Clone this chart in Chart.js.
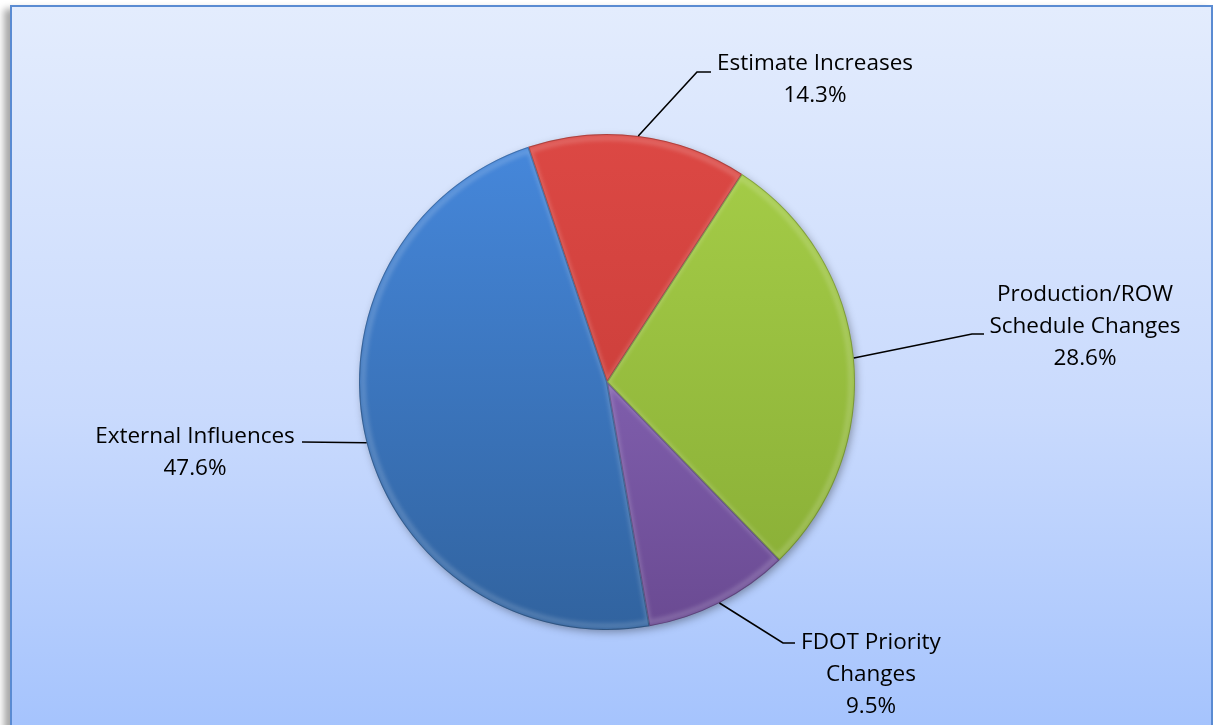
<!DOCTYPE html>
<html>
<head>
<meta charset="utf-8">
<script src="https://cdn.jsdelivr.net/npm/chart.js@4/dist/chart.umd.min.js"></script>
<style>
    html, body { margin: 0; padding: 0; background: #ffffff; overflow: hidden; }
    #frame {
        position: absolute; left: 10px; top: 5px; width: 1199px; height: 740px;
        border: 2px solid #5a8bd2;
        background: linear-gradient(to bottom, #e3ecfd 0%, #c9dafd 55%, #a3c2fd 100%);
        box-shadow: -6px 4px 7px rgba(0,0,0,.35);
    }
    #wrap { position: absolute; left: 0; top: 0; width: 1213px; height: 725px; }
</style>
</head>
<body>
<div id="frame"></div>
<div id="wrap"><canvas id="pieChart"></canvas></div>
<script>
// slice data, clockwise from the red slice
var categories = ['Estimate Increases', 'Production/ROW Schedule Changes', 'FDOT Priority Changes', 'External Influences'];
var shares     = [14.3, 28.6, 9.5, 47.6];
var labelLines = [['Estimate Increases'], ['Production/ROW', 'Schedule Changes'], ['FDOT Priority', 'Changes'], ['External Influences']];

// top / bottom shade of each slice
var sliceTop    = ['#dc4844', '#a6ce48', '#9472c6', '#4688dc'];
var sliceBottom = ['#c03834', '#87ac35', '#6a4a92', '#31639f'];

// where each label sits: text centre x, first line y, leader elbow, leader end
var labelPos = [
    { cx: 815,  y: 64,  elbow: [697, 72],  end: [711, 72] },
    { cx: 1085, y: 295, elbow: [972, 334], end: [984, 334] },
    { cx: 871,  y: 643, elbow: [783, 643], end: [795, 643] },
    { cx: 195,  y: 437, elbow: [302, 442], end: [302, 442] }
];

var FONT = '22.5px "Open Sans", "Liberation Sans", sans-serif';
var LINE_H = 32;

function shade(ctx) {
    var i = ctx.dataIndex;
    var area = ctx.chart.chartArea;
    if (!area) return sliceTop[i];
    var g = ctx.chart.ctx.createLinearGradient(0, area.top, 0, area.bottom);
    g.addColorStop(0, sliceTop[i]);
    g.addColorStop(1, sliceBottom[i]);
    return g;
}

function arcPath(c, a, inset) {
    c.beginPath();
    c.moveTo(a.x, a.y);
    c.arc(a.x, a.y, a.outerRadius - inset, a.startAngle, a.endAngle);
    c.closePath();
}

// drop shadow under the pie
var pieShadow = {
    id: 'pieShadow',
    beforeDatasetsDraw: function(chart) {
        var a = chart.getDatasetMeta(0).data[0];
        if (!a) return;
        var c = chart.ctx;
        c.save();
        c.shadowColor = 'rgba(0,0,0,.35)';
        c.shadowBlur = 9;
        c.shadowOffsetX = 2;
        c.shadowOffsetY = 3;
        c.fillStyle = '#5a7fb0';
        c.beginPath();
        c.arc(a.x, a.y, a.outerRadius - 1, 0, Math.PI * 2);
        c.fill();
        c.restore();
    }
};

// soft bevel on every slice
var bevel = {
    id: 'bevel',
    afterDatasetsDraw: function(chart) {
        var c = chart.ctx;
        chart.getDatasetMeta(0).data.forEach(function(a) {
            c.save();
            arcPath(c, a, 0);
            c.clip();
            c.filter = 'blur(2px)';
            arcPath(c, a, 4);
            c.lineWidth = 5;
            c.strokeStyle = 'rgba(255,255,255,.18)';
            c.stroke();
            c.filter = 'none';
            arcPath(c, a, 0);
            c.lineWidth = 2;
            c.strokeStyle = 'rgba(0,0,0,.22)';
            c.stroke();
            c.restore();
        });
    }
};

// labels with leader lines
var leaderLabels = {
    id: 'leaderLabels',
    afterDraw: function(chart) {
        var c = chart.ctx;
        var ds = chart.data.datasets[0].data;
        c.save();
        c.font = FONT;
        c.fillStyle = '#000';
        c.textAlign = 'center';
        c.textBaseline = 'middle';
        chart.getDatasetMeta(0).data.forEach(function(a, i) {
            var p = labelPos[i];
            var mid = (a.startAngle + a.endAngle) / 2;
            var ax = a.x + Math.cos(mid) * a.outerRadius;
            var ay = a.y + Math.sin(mid) * a.outerRadius;
            c.beginPath();
            c.moveTo(ax, ay);
            c.lineTo(p.elbow[0], p.elbow[1]);
            c.lineTo(p.end[0], p.end[1]);
            c.lineWidth = 1.6;
            c.strokeStyle = '#000';
            c.stroke();
            var lines = labelLines[i].concat([ds[i].toFixed(1) + '%']);
            lines.forEach(function(t, k) {
                c.fillText(t, p.cx, p.y + k * LINE_H);
            });
        });
        c.restore();
    }
};

new Chart(document.getElementById('pieChart').getContext('2d'), {
    type: 'pie',
    data: {
        labels: categories,
        datasets: [{
            data: shares,
            backgroundColor: shade,
            borderWidth: 0,
            hoverOffset: 0,
            offset: 0
        }]
    },
    options: {
        responsive: true,
        maintainAspectRatio: false,
        animation: false,
        events: [],
        rotation: -18.5,
        layout: { padding: { left: 359, right: 358, top: 134, bottom: 95 } },
        plugins: { legend: { display: false }, tooltip: { enabled: false } }
    },
    plugins: [pieShadow, bevel, leaderLabels]
});
</script>
</body>
</html>
